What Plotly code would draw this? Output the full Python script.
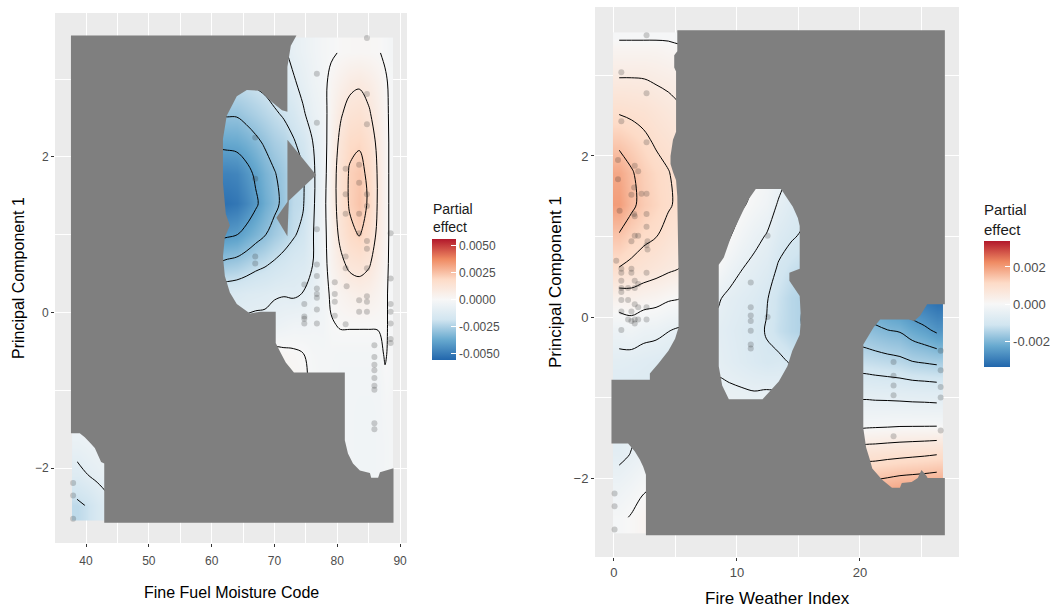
import plotly.graph_objects as go

W, H = 1059, 610

# ---------------- LEFT PANEL DATA (Fine Fuel Moisture Code) ----------------
# grid node positions
L_X = [38.57, 40.17, 41.77, 43.37, 46.5, 50.5, 54.5, 58.0, 59.5, 61.0, 62.5, 64.0, 65.5, 67.0,
       68.5, 70.0, 71.5, 73.0, 74.5, 76.0, 77.5, 79.0, 80.5, 82.0, 83.5, 85.0, 86.5, 87.6, 88.4]
L_Y = [-2.48, -2.09, -1.70, -1.31, -0.93, -0.54, -0.15, 0.24, 0.63, 1.01, 1.40, 1.79, 2.18, 2.56, 2.95, 3.34]
# partial effect, units of 1e-4 (rows = L_Y, columns = L_X)
L_Z = [
    [-22, -19.5, -15, -12, -6, -3, -2, -1, -1, -1, -1, -1, -1, -1, -1, -1, -1, -1, -1.5, -2, -2.5, -3, -3, -3, -3.5, -3.5, -3, -2.5, -2],
    [-12.5, -10.2, -8.5, -7, -4, -2, -1.5, -1, -1, -1, -1, -1, -1, -1, -1, -1, -1, -1, -1.5, -2, -2.5, -3, -3, -3, -3.5, -3.5, -3, -2.5, -2],
    [-7, -6, -5, -4, -3, -2, -1.5, -1, -1, -1, -1, -1, -1, -1, -1, -1, -1, -1, -1.5, -2, -2.5, -3, -3, -3, -3.5, -3.5, -3, -2.5, -2],
    [-4, -3.5, -3, -2.5, -2, -2, -1.5, -1, -1, -1, -1, -1, -1, -0.5, 0, 1, 1, 1, 0, -1.5, -2, -3, -3, -3, -3.5, -3.5, -3, -2, -2],
    [-3, -3, -3, -2.5, -2, -2, -1.5, -1, -1, -1, -1, -1, -1, 0, 1, 2, 2, 2, 1, -1, -2, -2.5, -3, -3, -3, -3, -3, -1, -1.5],
    [-3, -3, -3, -3, -3, -3, -2.5, -2, -2, -4, -4, -3.5, -3, -2, -1, 2, 1.5, 1, 0.3, -1.5, -2, -2, -2.5, -2.5, -2.5, -2.5, -2, 0.5, -1],
    [-3, -3, -3, -3, -3, -4, -4, -5, -6, -10, -9.5, -9, -8.5, -8, -8, -6, -5, -4, -4, -3, -3, -0.5, 0.5, 0.5, 0.5, 0.5, 0.5, 1, -1],
    [-3, -3, -3, -3, -4, -6, -8, -12, -14, -15, -14.5, -14, -13, -12.5, -12, -11, -10.5, -11, -9.8, -7, -4, 1, 3, 5, 6, 5, 3, 1, -1],
    [-3, -3, -3, -3, -5, -8, -12, -20, -25, -29, -28, -27, -25, -22.5, -21, -19, -17, -15, -14, -10.5, -4, 3, 8, 12, 13, 11, 6, 2, -1],
    [-3, -3, -3, -3, -6, -10, -16, -28, -36, -42, -41.5, -40.5, -37, -33.5, -30.5, -27, -24, -21, -18, -11, -4, 4, 12, 18, 20.5, 16, 8, 3, -1],
    [-3, -3, -3, -3, -6, -12, -20, -35, -46, -53, -52.5, -51, -47, -41.5, -36, -32, -28, -22, -21, -12, -4, 5, 14, 21, 24, 19, 9, 3, -1],
    [-3, -3, -3, -3, -6, -12, -20, -33, -43, -48, -48, -47, -43, -38.5, -34, -30.5, -27, -22, -21, -12, -5, 5, 14, 21, 23, 18, 9, 3, -1],
    [-3, -3, -3, -3, -6, -10, -16, -27, -34, -37.5, -37.5, -37, -35, -32, -29, -26, -24, -21, -17, -10.5, -5, 4, 12, 18, 19, 15, 8, 3, -1],
    [-3, -3, -3, -3, -5, -8, -13, -21, -26, -29, -29, -29, -27, -25, -23, -21, -19, -16, -11, -7, -4, 3, 9, 13, 14, 11, 6, 2, -1],
    [-3, -3, -3, -3, -5, -7, -10, -16, -19, -21, -21, -21, -20.5, -19, -18, -16, -14, -11, -8, -5, -3, 2, 5, 8, 9, 7, 4, 1, -1],
    [-3, -3, -3, -3, -4, -6, -8, -12, -14, -15, -15, -15, -14, -13, -13, -12, -11, -8, -6, -4, -2, -1, 0.5, 1, 1.2, 1, 0.5, -1, -2],
]
# observations
L_PTS_X = [84.72, 76.75, 76.75, 84.72, 84.72, 66.94, 81.33, 83.48, 81.33, 83.48, 84.72, 81.33, 83.48, 84.72,
           83.48, 84.72, 84.72, 66.94, 76.75, 88.49, 66.94, 66.94, 81.33, 81.33, 84.72, 76.75, 76.75, 76.75,
           76.75, 76.75, 76.75, 88.49, 79.60, 81.49, 74.75, 79.60, 79.60, 79.60, 81.33, 74.75, 74.75, 74.75,
           74.75, 83.48, 84.72, 84.72, 84.72, 83.48, 88.49, 88.49, 88.49, 88.49, 88.49, 76.75, 85.91, 85.91,
           85.91, 85.91, 85.91, 85.91, 85.91, 85.91, 85.91, 37.95, 37.95, 37.95]
L_PTS_Y = [3.53, 3.07, 2.44, 2.81, 2.42, 2.25, 1.85, 1.90, 1.52, 1.67, 1.52, 1.27, 1.27, 1.37,
           1.02, 0.92, 0.82, 1.72, 1.07, 1.02, 0.72, 0.63, 0.72, 0.57, 0.57, 0.62, 0.47, 0.31,
           0.24, 0.19, 0.04, 0.44, 0.39, 0.34, 0.36, 0.24, 0.14, -0.04, -0.15, 0.11, -0.05, -0.08,
           -0.14, 0.16, 0.21, 0.14, 0.01, 0.01, 0.11, 0.01, -0.14, -0.34, -0.39, -0.14, -0.42, -0.57,
           -0.67, -0.74, -0.84, -0.94, -0.99, -1.42, -1.50, -2.19, -2.35, -2.65]
# grey "too far from data" mask outlines
L_MASK_X = [37.6, 73.5, 72.6, 72.06, 72.06, 71.2, 69.4, 67.75, 65.6, 64.0, 62.4, 61.8, 61.8, 62.25, 62.9,
            62.1, 61.8, 62.1, 62.9, 64.0, 66.1, 67.75, 70.2, 70.2, 71.0, 71.8, 73.1, 81.2, 81.2, 81.7, 82.5,
            83.6, 85.2, 85.4, 86.5, 86.8, 88.95, 88.95, 42.9, 42.9, 42.4, 41.9, 41.4, 40.6, 39.8, 39.0, 37.6]
L_MASK_Y = [3.56, 3.56, 3.43, 3.16, 2.58, 2.60, 2.72, 2.85, 2.86, 2.78, 2.53, 2.23, 1.67, 1.27, 1.12,
            0.97, 0.72, 0.47, 0.26, 0.11, -0.01, 0.01, 0.01, -0.39, -0.52, -0.64, -0.77, -0.77, -1.64, -1.81, -1.94,
            -2.03, -2.06, -2.12, -2.12, -2.05, -2.0, -2.70, -2.70, -1.94, -1.92, -1.83, -1.74, -1.67, -1.60, -1.55, -1.55]
L_SPIKE_X = [72.06, 76.64, 72.06]
L_SPIKE_Y = [2.22, 1.77, 1.42]
L_WEDGE_X = [72.3, 70.3, 72.06]
L_WEDGE_Y = [1.45, 1.22, 0.98]

# ---------------- RIGHT PANEL DATA (Fire Weather Index) ----------------
R_X = [0.42, 1.42, 2.42, 3.42, 4.42, 5.42, 6.9, 8.4, 9.4, 10.4, 11.4, 12.4, 13.4, 14.4, 15.4, 17.0, 18.6,
       20.25, 21.25, 22.25, 23.25, 24.25, 25.25, 26.25]
R_Y = [-2.49, -2.10, -1.71, -1.32, -0.94, -0.55, -0.16, 0.23, 0.62, 1.01, 1.40, 1.79, 2.17, 2.56, 2.95, 3.34, 3.47]
R_Z = [
    [-0.8, 0.3, 1.5, 2, 2, 2, 1, -2, -3, -3, -3, -3, -3, -3, -3, 5, 15, 20, 21, 21.5, 22, 22, 22, 22],
    [-3, -2, -0.5, 0, 0, 0, 0, -2, -3, -3.5, -3.5, -3.5, -3.5, -4, -4, 3, 12, 16, 16.7, 17.3, 18, 18.3, 18.6, 19],
    [-6, -4.8, -3.5, -2.5, -2, -2, -2, -3, -3.5, -4, -4, -4, -4, -4.5, -5, 2, 6, 8, 8.3, 8.7, 9, 9.3, 9.6, 10],
    [-7, -6, -5, -4, -4, -4, -4, -3.5, -3.5, -4, -4, -3.5, -4, -5, -5.5, -3, -2, -1.5, -1.3, -1.2, -1, -1, -1, -1],
    [-8, -8, -8.5, -9, -10, -10, -8, -4.5, -4.3, -4.5, -4.8, -4.5, -5, -6, -7, -7, -6.5, -6, -6.2, -6.3, -6.5, -6.7, -6.8, -7],
    [-6.2, -6.5, -7, -7.5, -8, -8, -7, -5.5, -6.5, -7.5, -8.5, -9.5, -9, -10.5, -11, -12, -12, -12.5, -13, -13.5, -14, -15, -15.5, -16],
    [-3.2, -2.5, -3.5, -3.8, -4.8, -5.5, -5.5, -6, -7, -8, -9, -10.2, -12.5, -14, -15, -16, -17, -18, -19, -20, -20.5, -22.5, -24, -26],
    [2.5, 3, 2, 1.5, 0.5, 0, -1.5, -4.5, -6, -7, -8, -9.7, -12, -14, -15, -18, -21, -24, -25, -26.5, -28, -30, -31.5, -33],
    [10, 9, 8, 7, 6, 5, 2, -0.3, -3, -4.8, -6, -7.5, -10.5, -12, -13, -18, -23, -27, -28, -30, -31, -33, -34, -35],
    [14.5, 12.5, 11, 10.2, 8.5, 7.5, 4, 2, 0.3, -2, -3.8, -5.2, -8, -9.5, -10.5, -16, -22, -27, -28, -30, -31, -33, -34, -35],
    [20, 16, 13.5, 12, 10.5, 9, 6, 4, 2, 0.5, -1, -2.5, -5.5, -7.5, -9, -14, -20, -25, -26, -28, -29, -31, -32, -33],
    [18.5, 15.5, 13, 11.5, 10.2, 8.5, 7, 5, 4, 2.5, 0.5, -1, -3, -5.5, -7, -12, -17, -22, -23, -25, -26, -28, -29, -30],
    [13.8, 12.5, 11, 9.5, 8.5, 7, 6, 5, 4, 2, 1, -0.3, -2, -4, -5.2, -9, -14, -18, -19, -21, -22, -24, -25, -26],
    [9.5, 9, 8.5, 7.5, 6.5, 5.5, 5.2, 4, 3, 2, 1, -0.3, -1, -3, -4, -7, -11, -15, -16, -17, -18, -20, -21, -22],
    [5.2, 5.2, 5.1, 4.5, 4, 3.5, 3, 3, 2, 1, -0.3, -1, -2, -3, -4, -6, -9, -12, -13, -14, -15, -16, -17, -18],
    [1.5, 1.5, 1.5, 1.5, 1, 0.5, 0.3, 0.3, 0.3, -1, -1.5, -2, -3, -4, -5.2, -6, -8, -11, -11, -12, -13, -14, -15.2, -16],
    [-0.5, -0.5, -0.5, -0.5, -0.5, -1, -1, -1, -1.5, -2, -2.5, -3, -4, -5.2, -6, -7, -9, -11, -12, -13, -14, -15.2, -16, -17],
]
R_PTS_X = [2.65, 0.60, 2.65, 0.60, 2.65, 0.33, 1.69, 1.97, 1.42, 2.24, 2.65, 0.33, 1.64, 1.64, 1.69, 2.65,
           2.65, 1.69, 1.97, 0.46, 2.73, 2.65, 2.73, 1.42, 0.19, 0.60, 1.42, 0.60, 1.42, 1.69, 0.60, 2.65,
           0.60, 1.15, 1.69, 1.97, 0.60, 0.60, 1.15, 1.69, 1.97, 2.65, 1.42, 0.60, 1.15, 1.69, 1.69, 1.42,
           1.97, 2.65, 0.60,
           11.12, 11.12, 11.12, 11.12, 11.12, 11.12, 11.12, 12.49, 12.49,
           0.05, 0.05, 0.05,
           22.73, 22.73, 22.73, 22.73, 22.73, 26.56, 26.56, 26.56, 26.56, 26.56]
R_PTS_Y = [3.50, 3.04, 2.78, 2.43, 2.17, 1.95, 1.88, 1.81, 1.52, 1.53, 1.53, 1.71, 1.61, 1.28, 1.25, 1.28,
           1.12, 1.01, 1.01, 1.32, 0.94, 0.89, 0.84, 0.94, 0.70, 0.60, 0.60, 0.55, 0.55, 0.45, 0.45, 0.55,
           0.36, 0.36, 0.36, 0.41, 0.31, 0.21, 0.21, 0.16, 0.12, 0.12, 0.07, 0.07, -0.03, -0.03, -0.08, -0.05,
           -0.03, -0.03, -0.16,
           0.43, 0.12, 0.02, -0.05, -0.17, -0.34, -0.39, 0.0, 1.01,
           -2.19, -2.35, -2.64,
           -0.56, -0.73, -0.85, -0.97, -1.48, -0.42, -0.66, -0.87, -1.0, -1.41]
R_MASK_X = [5.15, 26.9, 26.9, 25.46, 24.9, 24.4, 23.96, 21.64, 21.1, 20.27, 20.27, 20.5, 20.8, 21.0, 21.8,
            22.6, 23.25, 23.4, 24.2, 24.7, 25.0, 25.4, 25.5, 26.9, 26.9, 2.6, 2.6, 2.38, 2.1, 1.7, 1.15,
            -0.2, -0.2, 2.92, 2.92, 3.6, 4.43, 4.97, 5.25, 5.25, 5.15, 5.05, 4.8, 4.6, 4.6, 4.8, 5.05,
            5.05, 4.9, 4.9, 5.15]
R_MASK_Y = [3.56, 3.56, 0.16, 0.16, 0.02, -0.05, -0.03, -0.03, -0.13, -0.34, -1.38, -1.62, -1.77, -1.88, -2.02,
            -2.12, -2.12, -2.06, -2.05, -2.0, -1.9, -1.97, -2.0, -2.0, -2.71, -2.71, -1.96, -1.86, -1.77, -1.67, -1.57,
            -1.57, -0.78, -0.78, -0.70, -0.58, -0.42, -0.27, -0.13, 0.55, 1.5, 1.7, 1.8, 1.9, 2.0, 2.2, 2.3,
            3.05, 3.1, 3.25, 3.3]
R_HOLE_X = [11.53, 13.58, 14.54, 14.95, 15.1, 15.1, 14.26, 14.26, 15.1, 15.2, 15.1, 14.5, 14.1, 13.4, 12.08,
            9.34, 8.8, 8.52, 8.52, 8.93, 9.6, 10.44, 10.98]
R_HOLE_Y = [1.59, 1.59, 1.37, 1.23, 1.13, 0.6, 0.55, 0.45, 0.26, -0.03, -0.22, -0.42, -0.61, -0.8, -1.02,
            -1.02, -0.85, -0.61, 0.65, 0.74, 1.03, 1.30, 1.47]

L_TICKS = [-0.005, -0.0025, 0.0, 0.0025, 0.005]
L_TICKTEXT = ["-0.0050", "-0.0025", "0.0000", "0.0025", "0.0050"]
R_TICKS = [-0.002, 0.0, 0.002]
R_TICKTEXT = ["-0.002", "0.000", "0.002"]

RDBU = [[0, "#2166AC"], [1 / 6, "#67A9CF"], [2 / 6, "#D1E5F0"], [0.5, "#F7F7F7"],
        [4 / 6, "#FDDBC7"], [5 / 6, "#EF8A62"], [1, "#B2182B"]]
UNIT = 1e-4
FONT = "Liberation Sans, Arial, sans-serif"
GREY = "#7F7F7F"


def scaled(z):
    return [[v * UNIT for v in row] for row in z]


def path(xs, ys, reverse=False):
    pts = list(zip(xs, ys))
    if reverse:
        pts = pts[::-1]
    return "M " + " L ".join(f"{x},{y}" for x, y in pts) + " Z"


fig = go.Figure()

# left heatmap + contours
fig.add_trace(go.Heatmap(
    x=L_X, y=L_Y, z=scaled(L_Z), zsmooth="best", colorscale=RDBU, zmin=-0.0056, zmax=0.0056,
    xaxis="x", yaxis="y", hoverinfo="skip",
    colorbar=dict(x=432 / W, xanchor="left", xpad=0, y=1 - 299.5 / H, yanchor="middle", ypad=0,
                  len=121, lenmode="pixels", thickness=24, outlinewidth=0,
                  tickvals=L_TICKS, ticktext=L_TICKTEXT, ticks="inside", ticklen=5,
                  tickcolor="white", tickwidth=1,
                  tickfont=dict(size=12, color="#4D4D4D", family=FONT))))
fig.add_trace(go.Contour(
    x=L_X, y=L_Y, z=scaled(L_Z), xaxis="x", yaxis="y", showscale=False, hoverinfo="skip",
    autocontour=False, contours=dict(start=-0.004, end=0.002, size=0.001, coloring="none"),
    line=dict(color="black", width=1, smoothing=1)))
fig.add_trace(go.Scatter(
    x=L_PTS_X, y=L_PTS_Y, mode="markers", xaxis="x", yaxis="y", hoverinfo="skip",
    marker=dict(size=6, color="rgba(40,40,40,0.22)", line=dict(width=0))))

# right heatmap + contours
fig.add_trace(go.Heatmap(
    x=R_X, y=R_Y, z=scaled(R_Z), zsmooth="best", colorscale=RDBU, zmin=-0.0034, zmax=0.0034,
    xaxis="x2", yaxis="y2", hoverinfo="skip",
    colorbar=dict(x=984 / W, xanchor="left", xpad=0, y=1 - 304 / H, yanchor="middle", ypad=0,
                  len=126, lenmode="pixels", thickness=26, outlinewidth=0,
                  tickvals=R_TICKS, ticktext=R_TICKTEXT, ticks="inside", ticklen=5,
                  tickcolor="white", tickwidth=1,
                  tickfont=dict(size=13, color="#4D4D4D", family=FONT))))
fig.add_trace(go.Contour(
    x=R_X, y=R_Y, z=scaled(R_Z), xaxis="x2", yaxis="y2", showscale=False, hoverinfo="skip",
    autocontour=False, contours=dict(start=-0.0025, end=0.0015, size=0.0005, coloring="none"),
    line=dict(color="black", width=1, smoothing=1)))
fig.add_trace(go.Scatter(
    x=R_PTS_X, y=R_PTS_Y, mode="markers", xaxis="x2", yaxis="y2", hoverinfo="skip",
    marker=dict(size=6, color="rgba(40,40,40,0.22)", line=dict(width=0))))

shapes = [
    dict(type="path", xref="x", yref="y", path=path(L_MASK_X, L_MASK_Y),
         fillcolor=GREY, line=dict(width=0), layer="above"),
    dict(type="path", xref="x", yref="y", path=path(L_SPIKE_X, L_SPIKE_Y),
         fillcolor=GREY, line=dict(width=0), layer="above"),
    dict(type="path", xref="x", yref="y", path=path(L_WEDGE_X, L_WEDGE_Y),
         fillcolor=GREY, line=dict(width=0), layer="above"),
    dict(type="path", xref="x2", yref="y2",
         path=path(R_MASK_X, R_MASK_Y) + " " + path(R_HOLE_X, R_HOLE_Y, reverse=True),
         fillcolor=GREY, line=dict(width=0), layer="above"),
]

axis_common = dict(showgrid=True, gridcolor="white", gridwidth=1.1, zeroline=False, showline=False,
                   ticks="outside", ticklen=3, tickwidth=1, tickcolor="#333333")

fig.update_layout(
    width=W, height=H, margin=dict(l=0, r=0, t=0, b=0), showlegend=False,
    paper_bgcolor="white", plot_bgcolor="#EBEBEB", font=dict(family=FONT),
    shapes=shapes,
    xaxis=dict(domain=[55 / W, 407 / W], range=[35.06, 91.1], anchor="y", tickvals=[40, 50, 60, 70, 80, 90],
               minor=dict(dtick=5, tick0=35, showgrid=True, gridcolor="white", gridwidth=0.5),
               ticklabelstandoff=4,
               tickfont=dict(size=12, color="#4D4D4D"), **axis_common),
    yaxis=dict(domain=[1 - 543 / H, 1 - 13 / H], range=[-2.96, 3.85], anchor="x", tickvals=[-2, 0, 2],
               minor=dict(dtick=1, tick0=-3, showgrid=True, gridcolor="white", gridwidth=0.5),
               tickfont=dict(size=12, color="#4D4D4D"), **axis_common),
    xaxis2=dict(domain=[595 / W, 959 / W], range=[-1.54, 28.05], anchor="y2", tickvals=[0, 10, 20],
                minor=dict(dtick=5, tick0=0, showgrid=True, gridcolor="white", gridwidth=0.5),
                tickfont=dict(size=13, color="#4D4D4D"), **axis_common),
    yaxis2=dict(domain=[1 - 557 / H, 1 - 7 / H], range=[-2.98, 3.85], anchor="x2", tickvals=[-2, 0, 2],
                minor=dict(dtick=1, tick0=-3, showgrid=True, gridcolor="white", gridwidth=0.5),
                tickfont=dict(size=13, color="#4D4D4D"), **axis_common),
    annotations=[
        dict(text="Fine Fuel Moisture Code", x=231 / W, y=1 - 592 / H, xref="paper", yref="paper",
             xanchor="center", yanchor="middle", showarrow=False, font=dict(size=16, color="black")),
        dict(text="Principal Component 1", x=18 / W, y=1 - 278 / H, xref="paper", yref="paper",
             xanchor="center", yanchor="middle", showarrow=False, textangle=-90,
             font=dict(size=16, color="black")),
        dict(text="Fire Weather Index", x=777 / W, y=1 - 598 / H, xref="paper", yref="paper",
             xanchor="center", yanchor="middle", showarrow=False, font=dict(size=17, color="black")),
        dict(text="Principal Component 1", x=555 / W, y=1 - 282 / H, xref="paper", yref="paper",
             xanchor="center", yanchor="middle", showarrow=False, textangle=-90,
             font=dict(size=17, color="black")),
        dict(text="Partial<br>effect", x=431 / W, y=1 - 199 / H, xref="paper", yref="paper",
             xanchor="left", yanchor="top", align="left", showarrow=False,
             font=dict(size=14, color="#1A1A1A")),
        dict(text="Partial<br>effect", x=982 / W, y=1 - 199 / H, xref="paper", yref="paper",
             xanchor="left", yanchor="top", align="left", showarrow=False,
             font=dict(size=15, color="#1A1A1A")),
    ],
)

fig.write_html("out.html")
